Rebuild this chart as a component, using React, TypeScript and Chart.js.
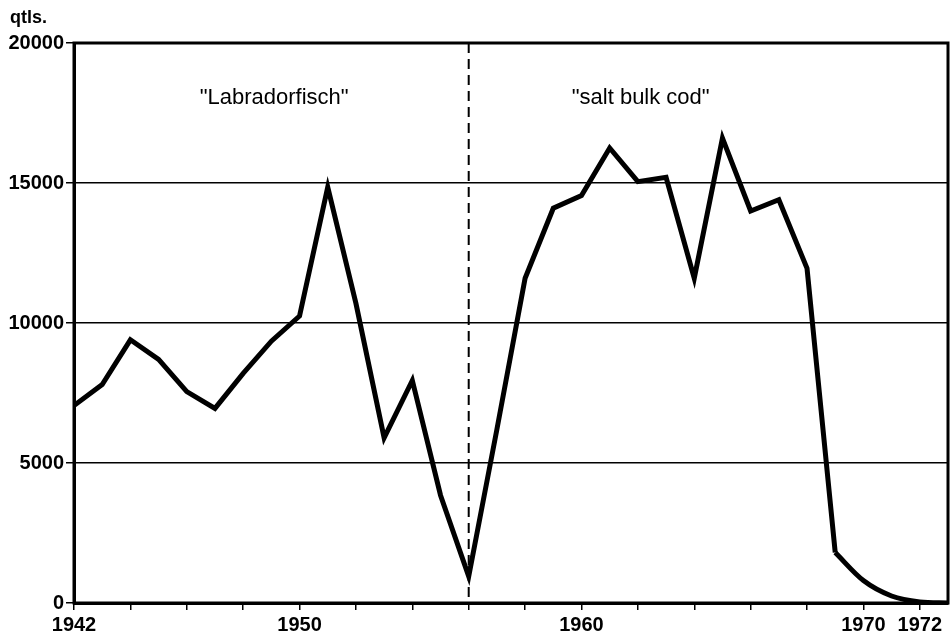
import { useEffect, useRef } from 'react';
import { Chart, registerables } from 'chart.js';
Chart.register(...registerables);

const FONT = '"Liberation Sans", Arial, Helvetica, sans-serif';

// Main series (straight segments)
const mainYears = [1942, 1943, 1944, 1945, 1946, 1947, 1948, 1949, 1950, 1951, 1952, 1953, 1954, 1955, 1956, 1957, 1958, 1959, 1960, 1961, 1962, 1963, 1964, 1965, 1966, 1967, 1968, 1969];
const mainValues = [7050, 7800, 9400, 8700, 7550, 6950, 8200, 9350, 10250, 14850, 10700, 5900, 7950, 3850, 950, 6200, 11600, 14100, 14550, 16250, 15050, 15200, 11600, 16600, 14000, 14400, 11950, 1800];
// Tail (smooth decline)
const tailYears = [1969, 1970, 1971, 1972, 1973];
const tailValues = [1800, 800, 250, 40, 0];

const xTickYears = [1942, 1944, 1946, 1948, 1950, 1952, 1954, 1956, 1958, 1960, 1962, 1964, 1966, 1968, 1970, 1972];
const xLabelYears = [1942, 1950, 1960, 1970, 1972];
const yTicks = [0, 5000, 10000, 15000, 20000];
const dividerYear = 1956;
const annotations = [
  { text: '"Labradorfisch"', x: 1949.1, y: 18050 },
  { text: '"salt bulk cod"', x: 1962.1, y: 18050 },
];
const unitLabel = 'qtls.';

export default function App() {
  const ref = useRef<HTMLCanvasElement>(null);
  useEffect(() => {
    document.body.style.margin = '0';
    const extras = {
      id: 'extras',
      beforeDatasetsDraw(chart: any) {
        const { ctx, chartArea, scales } = chart;
        const x = scales.x.getPixelForValue(dividerYear);
        ctx.save();
        ctx.strokeStyle = '#000';
        ctx.lineWidth = 2;
        ctx.setLineDash([10, 6]);
        ctx.beginPath();
        ctx.moveTo(x, chartArea.top);
        ctx.lineTo(x, chartArea.bottom);
        ctx.stroke();
        ctx.restore();
      },
      afterDatasetsDraw(chart: any) {
        const { ctx, chartArea, scales } = chart;
        ctx.save();
        ctx.strokeStyle = '#000';
        ctx.lineWidth = 3;
        ctx.strokeRect(chartArea.left, chartArea.top, chartArea.right - chartArea.left, chartArea.bottom - chartArea.top);
        ctx.fillStyle = '#000';
        ctx.font = `22px ${FONT}`;
        ctx.textAlign = 'center';
        ctx.textBaseline = 'middle';
        for (const a of annotations) {
          ctx.fillText(a.text, scales.x.getPixelForValue(a.x), scales.y.getPixelForValue(a.y));
        }
        ctx.font = `bold 18px ${FONT}`;
        ctx.textAlign = 'left';
        ctx.fillText(unitLabel, 10, 18);
        ctx.restore();
      },
    };
    const chart = new Chart(ref.current!, {
      type: 'line',
      data: {
        datasets: [
          {
            data: mainYears.map((y, i) => ({ x: y, y: mainValues[i] })),
            borderColor: '#000',
            borderWidth: 5,
            pointRadius: 0,
            tension: 0,
            borderJoinStyle: 'miter',
          },
          {
            data: tailYears.map((y, i) => ({ x: y, y: tailValues[i] })),
            borderColor: '#000',
            borderWidth: 5,
            pointRadius: 0,
            cubicInterpolationMode: 'monotone',
            borderJoinStyle: 'round',
          },
        ],
      },
      options: {
        responsive: false,
        animation: false,
        devicePixelRatio: 1,
        layout: { padding: { top: 43, right: 4, left: 0, bottom: 0 } },
        plugins: { legend: { display: false }, tooltip: { enabled: false } },
        scales: {
          x: {
            type: 'linear',
            min: 1942,
            max: 1973,
            afterBuildTicks: (axis: any) => {
              axis.ticks = xTickYears.map((v) => ({ value: v }));
            },
            afterFit: (s: any) => {
              s.height = 32;
            },
            ticks: {
              autoSkip: false,
              maxRotation: 0,
              padding: 3,
              color: '#000',
              font: { family: FONT, size: 20, weight: 'bold' },
              callback: (v: any) => (xLabelYears.includes(Number(v)) ? String(v) : ''),
            },
            grid: { drawOnChartArea: false, drawTicks: true, tickLength: 7, color: '#000', lineWidth: 1.5 },
            border: { display: true, color: '#000', width: 3 },
          },
          y: {
            type: 'linear',
            min: 0,
            max: 20000,
            afterBuildTicks: (axis: any) => {
              axis.ticks = yTicks.map((v) => ({ value: v }));
            },
            afterFit: (s: any) => {
              s.width = 74;
            },
            ticks: {
              padding: 2,
              color: '#000',
              font: { family: FONT, size: 20, weight: 'bold' },
              callback: (v: any) => String(v),
            },
            grid: { color: '#000', lineWidth: 1.5, tickLength: 8 },
            border: { display: true, color: '#000', width: 3 },
          },
        },
      },
      plugins: [extras],
    } as any);
    return () => chart.destroy();
  }, []);
  return (
    <div style={{ position: 'absolute', left: 0, top: 0, width: 952, height: 635, background: '#fff' }}>
      <canvas ref={ref} width={952} height={635} />
    </div>
  );
}
